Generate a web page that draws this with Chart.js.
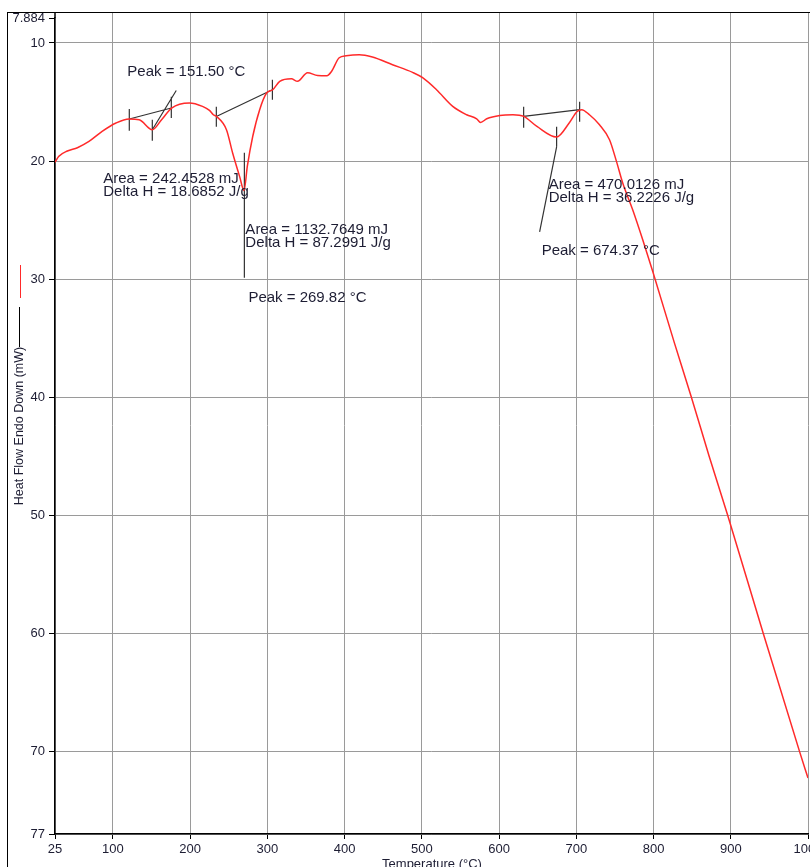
<!DOCTYPE html>
<html>
<head>
<meta charset="utf-8">
<script src="https://cdn.jsdelivr.net/npm/chart.js@4.4.0/dist/chart.umd.min.js"></script>
<style>
  html, body { margin: 0; padding: 0; background: #fff; overflow: hidden; }
  #wrap { position: relative; width: 810px; height: 867px; }
</style>
</head>
<body>
<div id="wrap"><canvas id="dscChart" width="810" height="867"></canvas></div>
<script>
// DSC curve (temperature °C / heat flow mW)
const temperature = [25, 30, 41, 54, 69, 86, 104, 121, 134, 151, 163, 176, 199, 216, 225, 230, 234, 247, 255, 264,
  269.8, 274, 281, 290, 299, 307, 316, 331, 339, 352, 365, 377, 383, 393, 402, 419, 436, 462, 488, 501,
  519, 540, 558, 571, 576, 584, 601, 618, 632, 649, 674.4, 691, 701, 707, 717, 730, 743, 752, 760, 773,
  786, 799, 827, 849, 872, 896, 942, 989, 1000];
const heatFlow = [20.1, 19.6, 19.15, 18.87, 18.34, 17.49, 16.78, 16.44, 16.5, 17.35, 16.5, 15.51, 15.08, 15.37, 15.71, 16.08, 16.22, 17.35, 19.32, 21.3,
  22.5, 20.46, 17.92, 15.65, 14.24, 13.96, 13.25, 13.03, 13.25, 12.52, 12.75, 12.77, 12.41, 11.25, 11.08, 10.99, 11.19, 11.84, 12.49, 12.94,
  13.96, 15.37, 16.08, 16.42, 16.73, 16.42, 16.14, 16.08, 16.22, 17.07, 17.97, 16.75, 15.8, 15.65, 16.08, 16.92, 18.19, 20.03, 21.84, 24.13,
  26.67, 29.36, 35.4, 40.0, 45.0, 50.0, 60.0, 70.0, 72.26];

// baselines, limit ticks and peak markers of the three integrated peaks
const peakMarks = [
  [[121.2, 16.44], [175.6, 15.51]],
  [[121.2, 15.6], [121.2, 17.44]],
  [[151, 16.5], [151, 18.28]],
  [[175.6, 14.55], [175.6, 16.36]],
  [[151, 17.35], [182, 14.02]],
  [[233.9, 16.22], [306.5, 13.96]],
  [[233.9, 15.4], [233.9, 17.09]],
  [[306.5, 13.11], [306.5, 14.8]],
  [[270.2, 19.3], [270.2, 29.88]],
  [[631.8, 16.22], [704.3, 15.64]],
  [[631.8, 15.4], [631.8, 17.17]],
  [[704.3, 14.97], [704.3, 16.67]],
  [[674.5, 17.09], [674.5, 18.79]],
  [[674.5, 18.79], [652.5, 25.99]]
];

const xTickValues = [25, 100, 200, 300, 400, 500, 600, 700, 800, 900, 1000];
const yTickValues = [7.884, 10, 20, 30, 40, 50, 60, 70, 77];

const peakLabels = [
  'Peak = 151.50 °C', 'Area = 242.4528 mJ', 'Delta H = 18.6852 J/g',
  'Area = 1132.7649 mJ', 'Delta H = 87.2991 J/g', 'Peak = 269.82 °C',
  'Area = 470.0126 mJ', 'Delta H = 36.2226 J/g', 'Peak = 674.37 °C'
];
// where each label sits, in axis units (left edge, middle)
const labelAnchors = [
  [118.6, 12.43], [87.5, 21.5], [87.5, 22.6],
  [271.5, 25.82], [271.5, 26.92], [275.4, 31.58],
  [664.2, 22.0], [664.2, 23.11], [655.1, 27.6]
];

const textColor = '#1d1d33';
const tickFont = { family: '"Liberation Sans", Arial, sans-serif', size: 13 };

const curvePoints = temperature.map((t, i) => ({ x: t, y: heatFlow[i] }));
const markPoints = [];
peakMarks.forEach(seg => {
  markPoints.push({ x: seg[0][0], y: seg[0][1] });
  markPoints.push({ x: seg[1][0], y: seg[1][1] });
  markPoints.push({ x: seg[1][0], y: null });
});

const decorations = {
  id: 'decorations',
  afterDraw(chart) {
    const ctx = chart.ctx;
    const xs = chart.scales.x;
    const ys = chart.scales.y;
    const top = chart.chartArea.top;
    ctx.save();

    // outer frame, grid lines run up to it
    ctx.strokeStyle = '#9a9a9a';
    ctx.lineWidth = 1;
    xTickValues.slice(1).forEach(v => {
      const px = Math.round(xs.getPixelForValue(v) - 0.5) + 0.5;
      ctx.beginPath();
      ctx.moveTo(px, 12.5);
      ctx.lineTo(px, top);
      ctx.stroke();
    });
    ctx.strokeStyle = '#000';
    ctx.strokeRect(7.5, 12.5, 820, 870);
    ctx.lineWidth = 1.5;
    ctx.beginPath();
    ctx.moveTo(xs.left, 12.5);
    ctx.lineTo(xs.left, top);
    ctx.stroke();

    // peak annotations
    ctx.fillStyle = textColor;
    ctx.font = '15px "Liberation Sans", Arial, sans-serif';
    ctx.textAlign = 'left';
    ctx.textBaseline = 'middle';
    peakLabels.forEach((txt, i) => {
      ctx.fillText(txt, xs.getPixelForValue(labelAnchors[i][0]), ys.getPixelForValue(labelAnchors[i][1]));
    });

    // y axis title with its little curve key
    ctx.lineWidth = 1;
    ctx.strokeStyle = '#ff2a2a';
    ctx.beginPath();
    ctx.moveTo(20.5, 265);
    ctx.lineTo(20.5, 298);
    ctx.stroke();
    ctx.strokeStyle = '#000';
    ctx.beginPath();
    ctx.moveTo(19.5, 307);
    ctx.lineTo(19.5, 347);
    ctx.stroke();
    ctx.save();
    ctx.translate(20, 426);
    ctx.rotate(-Math.PI / 2);
    ctx.textAlign = 'center';
    ctx.font = '12.5px "Liberation Sans", Arial, sans-serif';
    ctx.fillText('Heat Flow Endo Down (mW)', 0, 0);
    ctx.restore();

    // x axis title (cut by the bottom edge)
    ctx.textAlign = 'center';
    ctx.font = '13px "Liberation Sans", Arial, sans-serif';
    ctx.fillText('Temperature (°C)', 432, 864);
    ctx.restore();
  }
};

const ctx = document.getElementById('dscChart').getContext('2d');
new Chart(ctx, {
  type: 'line',
  data: {
    datasets: [
      {
        label: 'Heat Flow',
        data: curvePoints,
        borderColor: '#ff2a2a',
        borderWidth: 1.5,
        pointRadius: 0,
        cubicInterpolationMode: 'monotone',
        fill: false
      },
      {
        label: 'Marks',
        data: markPoints,
        borderColor: '#333',
        borderWidth: 1.2,
        pointRadius: 0,
        tension: 0,
        spanGaps: false,
        fill: false
      }
    ]
  },
  options: {
    responsive: false,
    animation: false,
    devicePixelRatio: 1,
    layout: { padding: { left: 0, top: 18, right: 2, bottom: 0 } },
    plugins: { legend: { display: false }, tooltip: { enabled: false } },
    scales: {
      x: {
        type: 'linear',
        min: 25,
        max: 1000,
        afterBuildTicks: s => { s.ticks = xTickValues.map(v => ({ value: v })); },
        afterFit: s => { s.height = 33; s.paddingLeft = 0; s.paddingRight = 0; },
        ticks: { autoSkip: false, maxRotation: 0, color: textColor, font: tickFont, padding: 3, callback: v => String(v) },
        grid: { color: '#9a9a9a', tickColor: '#000', tickLength: 5, lineWidth: 1 },
        border: { color: '#000', width: 1.5 }
      },
      y: {
        type: 'linear',
        reverse: true,
        min: 7.884,
        max: 77,
        afterBuildTicks: s => { s.ticks = yTickValues.map(v => ({ value: v })); },
        afterFit: s => { s.width = 55; s.paddingTop = 0; s.paddingBottom = 0; },
        ticks: { autoSkip: false, color: textColor, font: tickFont, padding: 4, callback: v => String(v) },
        grid: {
          color: c => (c.tick && c.tick.value === 7.884) ? 'rgba(0,0,0,0)' : '#9a9a9a',
          tickColor: '#000',
          tickLength: 6,
          lineWidth: 1
        },
        border: { color: '#000', width: 1.5 }
      }
    }
  },
  plugins: [decorations]
});
</script>
</body>
</html>
